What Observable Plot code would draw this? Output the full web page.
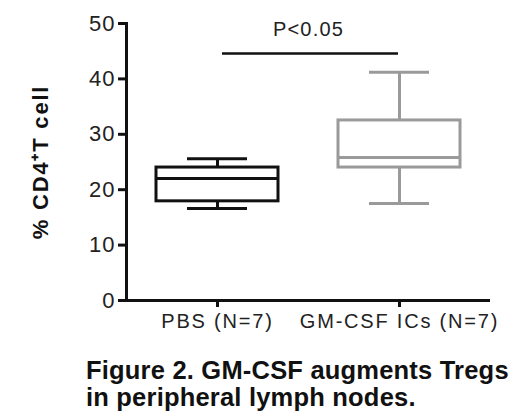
<!DOCTYPE html>
<html>
<head>
<meta charset="utf-8">
<script src="https://cdn.jsdelivr.net/npm/d3@7"></script>
<script src="https://cdn.jsdelivr.net/npm/@observablehq/plot@0.6"></script>
<style>
  body { margin: 0; background: #fff; }
  #chart { position: relative; width: 520px; }
  .caption { font-family: "Liberation Sans", Arial, sans-serif; font-weight: bold; font-size: 25.5px; letter-spacing: 0.2px; line-height: 27px; margin: 17px 0 0 0; padding-left: 86px; color: #111; white-space: nowrap; }
</style>
</head>
<body>
<div id="chart"></div>
<script>
const groups = ["PBS (N=7)", "GM-CSF ICs (N=7)"];
const mins = [16.6, 17.5];
const q1s = [17.9, 24.0];
const medians = [22.0, 25.8];
const q3s = [24.0, 32.5];
const maxs = [25.6, 41.2];
const colors = ["#111111", "#9a9a9a"];
const yTicks = [0, 10, 20, 30, 40, 50];
const sigY = [44.6];
const sigLabel = "P<0.05";
const yLabel = "% CD4\u207AT cell";
const captionLines = ["Figure 2. GM-CSF augments Tregs", "in peripheral lymph nodes."];

const stats = groups.map((g, i) => ({
  group: g, min: mins[i], q1: q1s[i], median: medians[i], q3: q3s[i], max: maxs[i], color: colors[i]
}));

const font = '"Liberation Sans", Arial, sans-serif';

const plot = Plot.plot({
  width: 520,
  height: 340,
  marginLeft: 126,
  marginRight: 30,
  marginTop: 23,
  marginBottom: 40,
  style: { fontFamily: font, fontSize: "20px", color: "#111", background: "#fff" },
  x: { domain: groups, padding: 0, axis: null },
  y: { domain: [0, 50], axis: null },
  marks: [
    Plot.axisY(yTicks, { tickSize: 8, tickPadding: 3, strokeWidth: 3, fontSize: 22, label: null, fill: "#222" }),
    Plot.axisX({ tickSize: 7, tickPadding: 6, strokeWidth: 3, fontSize: 20, label: null, fill: "#222" }),
    Plot.frame({ anchor: "left", strokeWidth: 3, stroke: "#111" }),
    Plot.ruleY([0], { strokeWidth: 3, stroke: "#111" }),
    // whiskers
    Plot.ruleX(stats, { x: "group", y1: "q3", y2: "max", stroke: "color", strokeWidth: 3 }),
    Plot.ruleX(stats, { x: "group", y1: "min", y2: "q1", stroke: "color", strokeWidth: 3 }),
    // caps
    Plot.tickY(stats, { x: "group", y: "max", stroke: "color", strokeWidth: 3, inset: 61 }),
    Plot.tickY(stats, { x: "group", y: "min", stroke: "color", strokeWidth: 3, inset: 61 }),
    // boxes
    Plot.barY(stats, { x: "group", y1: "q1", y2: "q3", stroke: "color", fill: "white", strokeWidth: 3, insetLeft: 30, insetRight: 30 }),
    Plot.tickY(stats, { x: "group", y: "median", stroke: "color", strokeWidth: 3, inset: 30 }),
    // significance bar
    Plot.ruleY(sigY, { stroke: "#111", strokeWidth: 2.5, insetLeft: 96, insetRight: 92 }),
    Plot.text(sigY, { y: d => d, text: () => sigLabel, dy: -24, fontSize: 20, fill: "#222" }),
    // y label
    Plot.text([yLabel], { frameAnchor: "left", textAnchor: "middle", rotate: -90, dx: -86, fontSize: 22, fontWeight: "bold", fill: "#111" })
  ]
});

document.getElementById("chart").appendChild(plot);

const svg = d3.select(plot);
svg.selectAll("g[aria-label='x-axis tick label'] text").style("letter-spacing", "1.8px");
svg.selectAll("g[aria-label='y-axis tick label'] text").style("letter-spacing", "1px");
svg.selectAll("g[aria-label='text'] text").filter(function() { return this.textContent === sigLabel; }).style("letter-spacing", "1.2px");
svg.selectAll("g[aria-label='text'] text").filter(function() { return this.textContent === yLabel; }).style("letter-spacing", "1.8px");

const cap = d3.select("#chart").append("div").attr("class", "caption");
captionLines.forEach(l => cap.append("div").text(l));
</script>
</body>
</html>
